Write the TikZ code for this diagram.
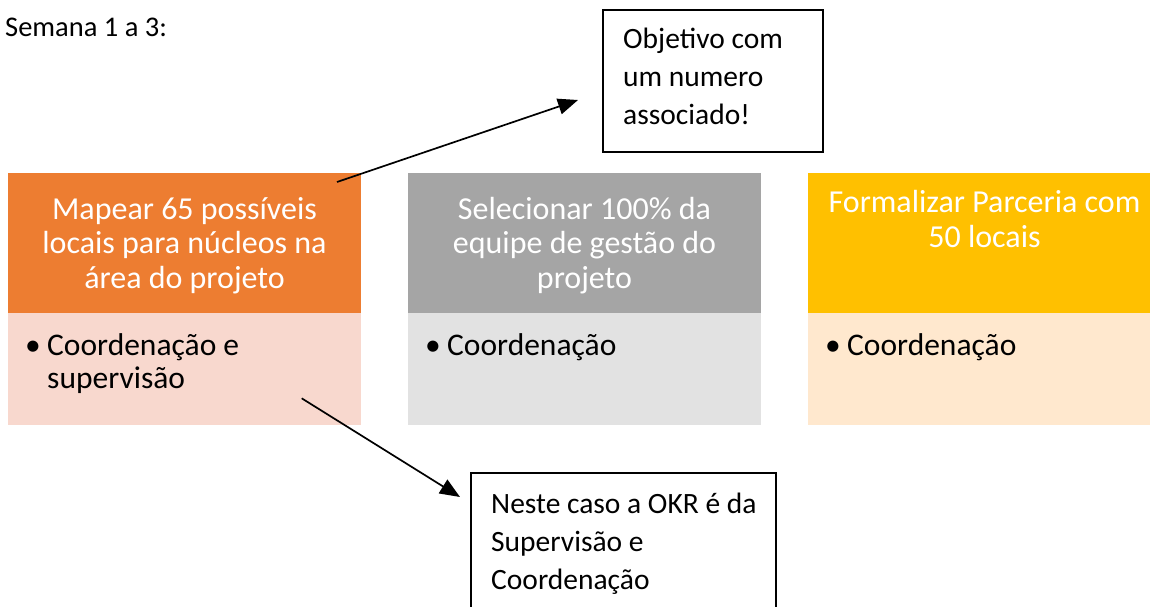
\documentclass[tikz,border=0pt]{standalone}
\usepackage{fontspec}
\setmainfont{Carlito}
\usetikzlibrary{positioning,arrows.meta}
\definecolor{okrorange}{HTML}{ED7D31}
\definecolor{okrpink}{HTML}{F8D8CE}
\definecolor{okrgray}{HTML}{A5A5A5}
\definecolor{okrlightgray}{HTML}{E2E2E2}
\definecolor{okryellow}{HTML}{FFC000}
\definecolor{okrcream}{HTML}{FFE8CE}
\begin{document}
\begin{tikzpicture}[x=1pt,y=-1pt,
    hdr/.style={minimum width=353pt,minimum height=140pt,inner sep=0pt,outer sep=0pt},
    bdy/.style={minimum width=353pt,minimum height=112pt,inner sep=0pt,outer sep=0pt},
    ttl/.style={anchor=base,inner sep=0pt,text=white,align=center,font=\fontsize{32}{34.5}\selectfont},
    itm/.style={anchor=base west,inner sep=0pt,align=left,font=\fontsize{31.5}{33}\selectfont},
    note/.style={draw,line width=2pt,inner sep=0pt,outer sep=0pt,anchor=north west},
    notetxt/.style={anchor=base west,inner sep=0pt,align=left,font=\fontsize{29.5}{38}\selectfont},
    arr/.style={line width=1.7pt,-{Triangle[length=20pt,width=16pt]}}]
  \useasboundingbox (0,0) rectangle (1150,607);
  \clip (0,0) rectangle (1150,607);
  \node[anchor=base west,inner sep=0pt,font=\fontsize{28.5}{34}\selectfont] (week) at (5,36.7) {Semana 1 a 3:};

  \node[hdr,fill=okrorange,anchor=north west] (map) at (8,173) {};
  \node[hdr,fill=okrgray,right=47pt of map] (sel) {};
  \node[hdr,fill=okryellow,right=47pt of sel] (form) {};
  \node[bdy,fill=okrpink,below=0pt of map] (mapbody) {};
  \node[bdy,fill=okrlightgray,below=0pt of sel] (selbody) {};
  \node[bdy,fill=okrcream,below=0pt of form] (formbody) {};

  \node[ttl] (maptxt) at ([yshift=-115pt]map.north) {Mapear 65 possíveis\\locais para núcleos na\\área do projeto};
  \node[ttl] (seltxt) at ([yshift=-115pt]sel.north) {Selecionar 100\% da\\equipe de gestão do\\projeto};
  \node[ttl] (formtxt) at ([yshift=-74pt]form.north) {Formalizar Parceria com\\50 locais};

  \node[itm] (mapitem) at ([xshift=17pt,yshift=-75pt]mapbody.north west) {\makebox[22pt][l]{•}Coordenação e\\\hspace*{22pt}supervisão};
  \node[itm] (selitem) at ([xshift=17pt,yshift=-42pt]selbody.north west) {\makebox[22pt][l]{•}Coordenação};
  \node[itm] (formitem) at ([xshift=17pt,yshift=-42pt]formbody.north west) {\makebox[22pt][l]{•}Coordenação};

  \node[note,minimum width=220pt,minimum height=142pt] (goal) at (603,10) {};
  \node[notetxt] (goaltxt) at ([xshift=20pt,yshift=-114.3pt]goal.north west) {Objetivo com\\um numero\\associado!};
  \node[note,minimum width=305pt,minimum height=136pt] (owner) at (471,473) {};
  \node[notetxt] (ownertxt) at ([xshift=20pt,yshift=-116.3pt]owner.north west) {Neste caso a OKR é da\\Supervisão e\\Coordenação};

  \coordinate (goalstart) at (337,182);
  \coordinate (goalend) at (578,100);
  \coordinate (ownerstart) at (301.7,398.3);
  \coordinate (ownerend) at (460,497);
  \draw[arr] (goalstart) -- (goalend);
  \draw[arr] (ownerstart) -- (ownerend);
\end{tikzpicture}
\end{document}
